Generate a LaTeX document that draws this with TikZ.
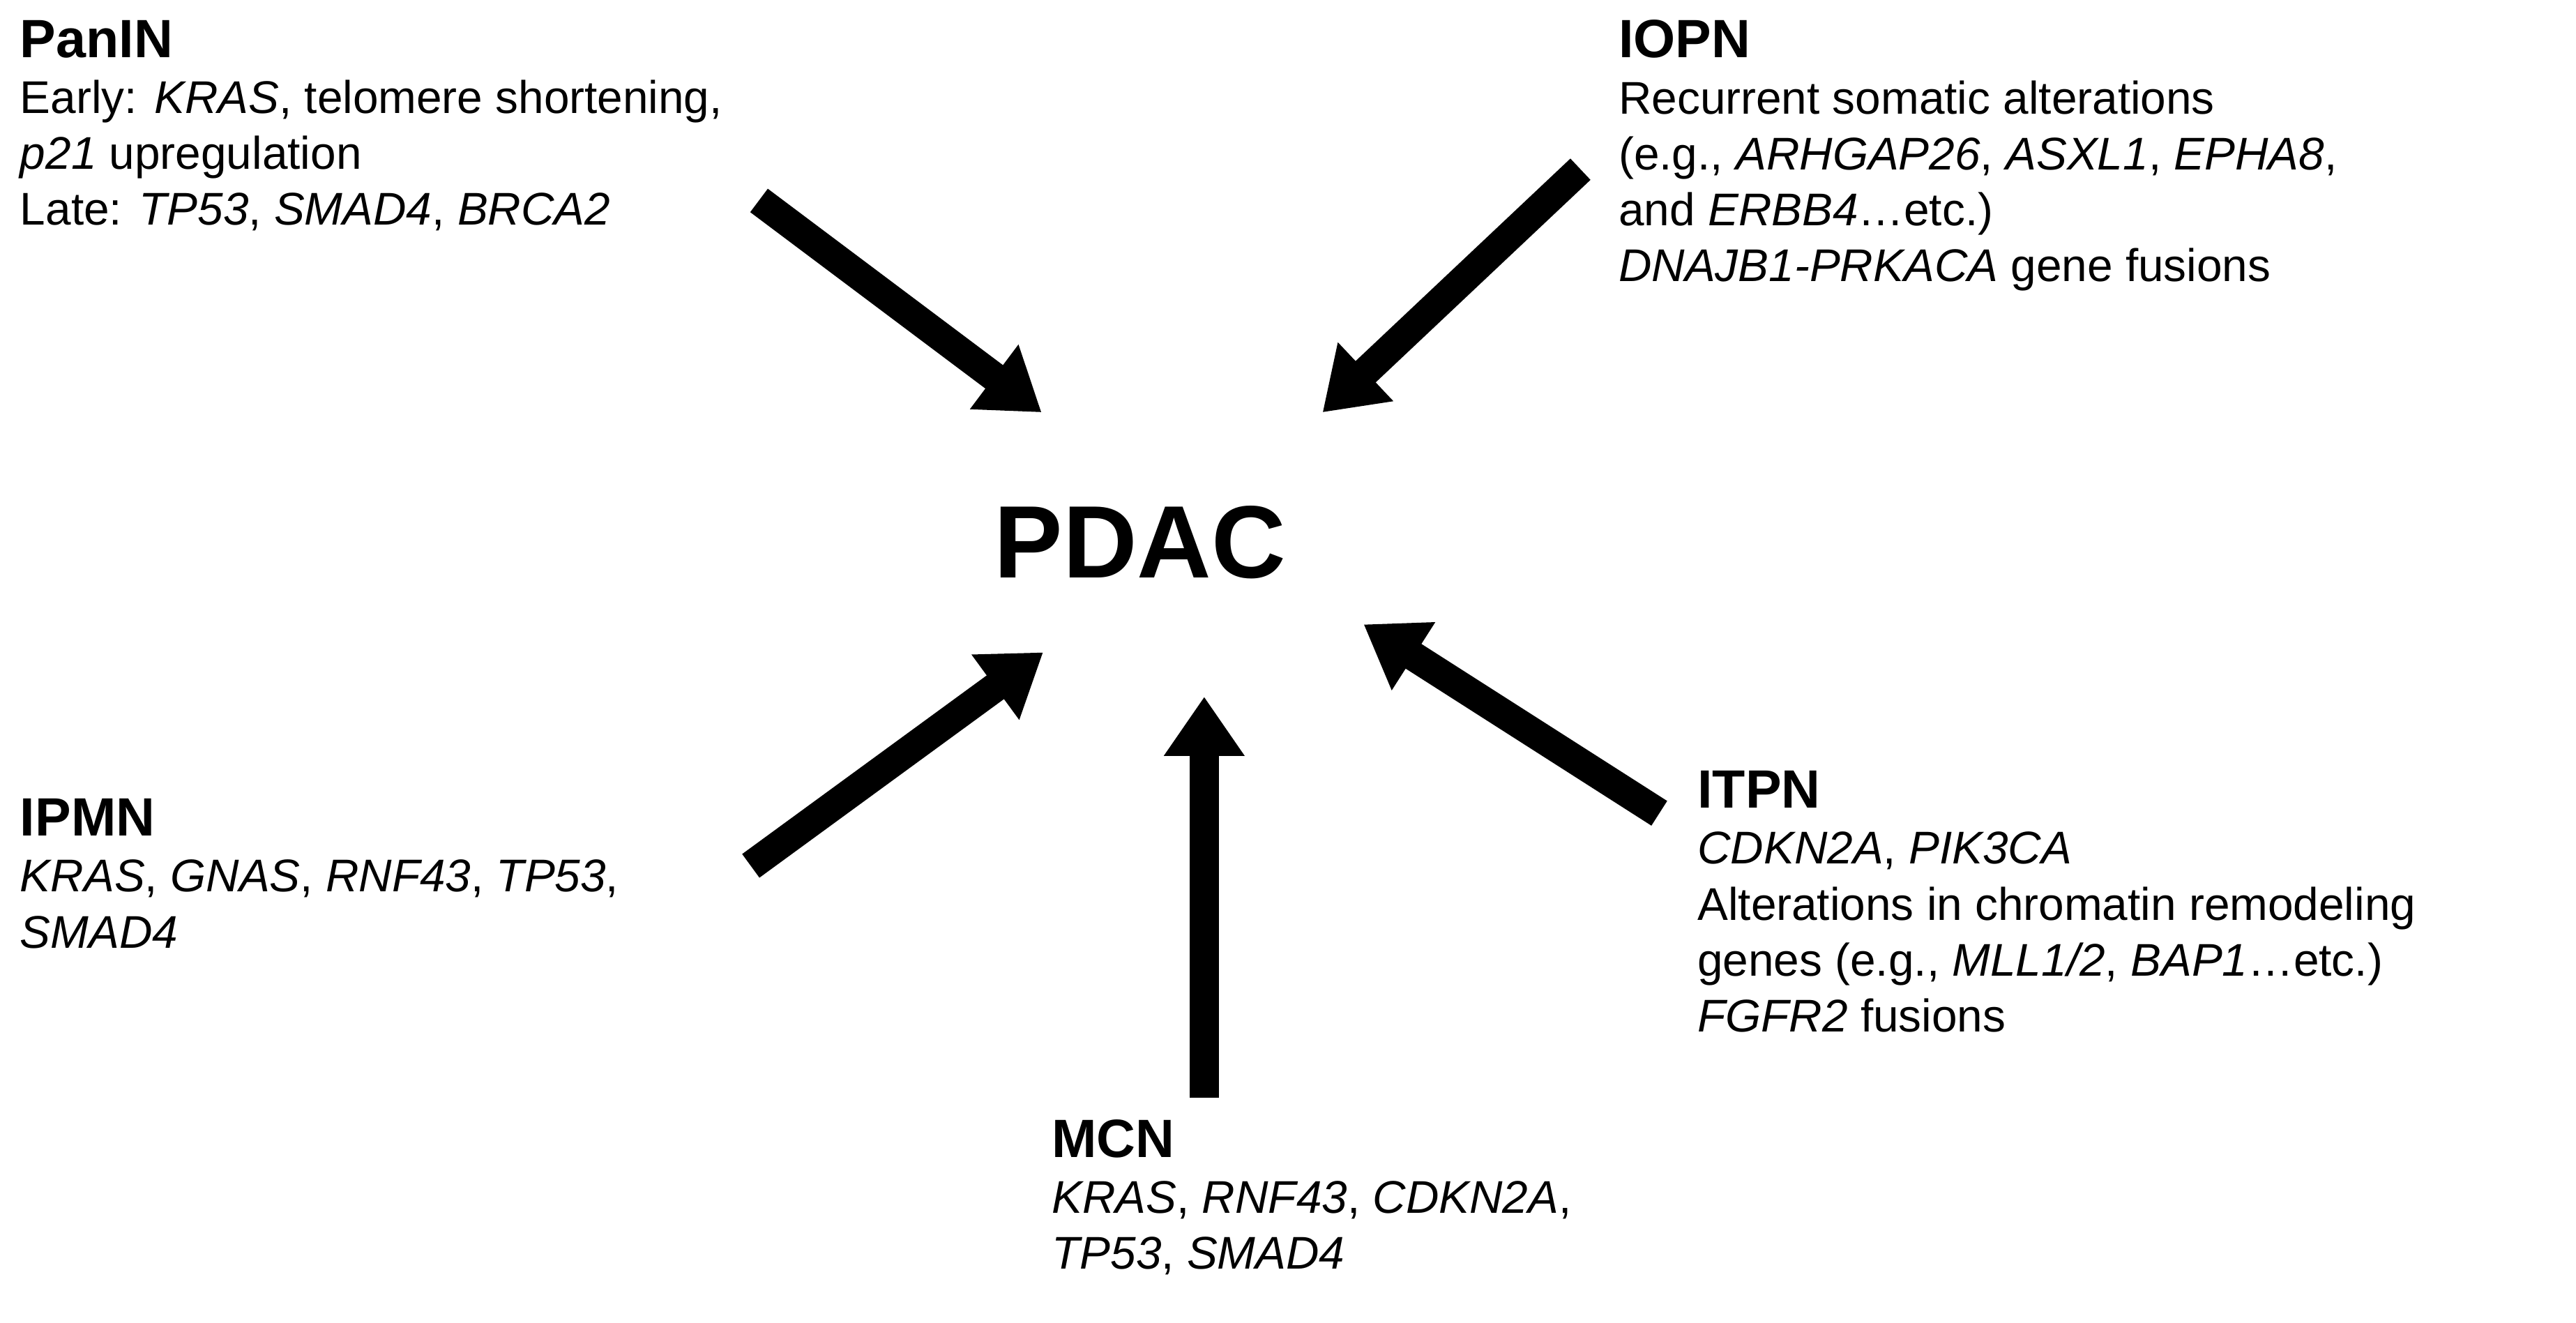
\documentclass[tikz,border=0pt]{standalone}
\usepackage{fontspec}
\setmainfont{Liberation Sans}
\usetikzlibrary{arrows.meta}
\newcommand{\blocktitle}[1]{{\fontsize{22}{27}\selectfont\bfseries #1}}
\begin{document}
\begin{tikzpicture}[
  x=0.02356cm, y=-0.02356cm,
  block/.style = {
    anchor=north west,
    align=left,
    inner sep=0pt,
    font=\fontsize{18.7}{22.8}\selectfont,
  },
  route/.style = {
    line width=0.42cm,
    -{Triangle[length=0.85cm,width=1.1cm]},
  },
]
  \useasboundingbox (0,0) rectangle (1568,805);

  \node[font=\fontsize{42}{48}\selectfont\bfseries] (pdac) at (694,330) {PDAC};

  \node[block] (panin) at (12,12) {\blocktitle{PanIN}\\[0pt]
    Early: \textit{KRAS}, telomere shortening,\\
    \textit{p21} upregulation\\
    Late: \textit{TP53}, \textit{SMAD4}, \textit{BRCA2}};

  \node[block] (iopn) at (985,12) {\blocktitle{IOPN}\\[0pt]
    Recurrent somatic alterations\\
    (e.g., \textit{ARHGAP26}, \textit{ASXL1}, \textit{EPHA8},\\
    and \textit{ERBB4}\ldots etc.)\\
    \textit{DNAJB1-PRKACA} gene fusions};

  \node[block] (ipmn) at (12,486) {\blocktitle{IPMN}\\[0pt]
    \textit{KRAS}, \textit{GNAS}, \textit{RNF43}, \textit{TP53},\\
    \textit{SMAD4}};

  \node[block] (mcn) at (640,681) {\blocktitle{MCN}\\[0pt]
    \textit{KRAS}, \textit{RNF43}, \textit{CDKN2A},\\
    \textit{TP53}, \textit{SMAD4}};

  \node[block] (itpn) at (1033,469) {\blocktitle{ITPN}\\[0pt]
    \textit{CDKN2A}, \textit{PIK3CA}\\
    Alterations in chromatin remodeling\\
    genes (e.g., \textit{MLL1/2}, \textit{BAP1}\ldots etc.)\\
    \textit{FGFR2} fusions};

  % arrow ends
  \coordinate (panin-s) at (462,122);
  \coordinate (panin-e) at (634,251);
  \coordinate (iopn-s) at (962,103);
  \coordinate (iopn-e) at (805,251);
  \coordinate (ipmn-s) at (457,527);
  \coordinate (ipmn-e) at (635,397);
  \coordinate (mcn-s) at (733,668);
  \coordinate (mcn-e) at (733,424);
  \coordinate (itpn-s) at (1010,495);
  \coordinate (itpn-e) at (830,380);

  \draw[route] (panin-s) -- (panin-e);
  \draw[route] (iopn-s) -- (iopn-e);
  \draw[route] (ipmn-s) -- (ipmn-e);
  \draw[route] (mcn-s) -- (mcn-e);
  \draw[route] (itpn-s) -- (itpn-e);
\end{tikzpicture}
\end{document}
